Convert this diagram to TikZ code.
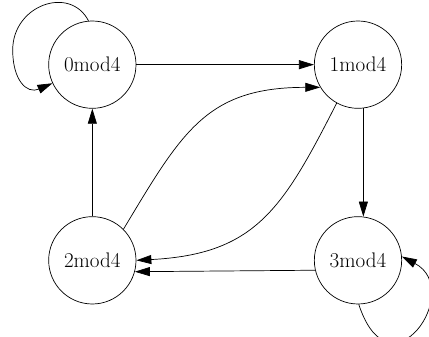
\documentclass[tikz,border=0pt]{standalone}
\usetikzlibrary{arrows.meta}

\tikzset{
  state/.style={draw,circle,minimum size=2.62cm,inner sep=0pt,line width=0.6pt,font=\fontsize{18}{21}\selectfont},
  trans/.style={line width=0.6pt,-{Triangle[length=0.45cm,width=0.27cm]}}
}

\begin{document}
\begin{tikzpicture}
\useasboundingbox (0,0) rectangle (12.87,10.11);

\node[state] (s0) at (2.77,8.17) {0mod4};
\node[state] (s1) at (10.74,8.17) {1mod4};
\node[state] (s2) at (2.77,2.30) {2mod4};
\node[state] (s3) at (10.74,2.30) {3mod4};

\draw[trans] (s0) -- (s1);
\draw[trans] (s2) -- (s0);
\draw[trans] (s1.-83) -- (s3.83);
\draw[trans] (s3.193) -- (s2.-15);
\draw[trans] (s1.241) to[out=243,in=3,looseness=1.2] (s2.0);
\draw[trans] (s2.45) to[out=59,in=180,looseness=1.2] (s1.211);

% self loops
\draw[trans] (s0.95) .. controls (2.1,10.56) and (0.381,9.96) .. (0.381,8.61)
  .. controls (0.381,7.71) and (0.801,7.28) .. (s0.205);
\draw[trans] (s3.271) .. controls (11.7,-1.89) and (13.95,1.41) .. (s3.5);
\end{tikzpicture}
\end{document}
